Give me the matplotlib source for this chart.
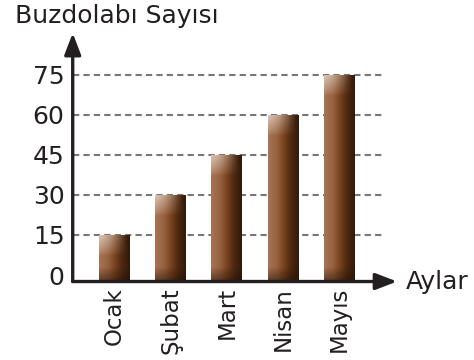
import numpy as np
import matplotlib
matplotlib.use('Agg')
import matplotlib.pyplot as plt

plt.rcParams['font.family'] = ['DejaVu Sans']

# data
months = ['Ocak', 'Şubat', 'Mart', 'Nisan', 'Mayıs']
counts = [15, 30, 45, 60, 75]
yticks = [0, 15, 30, 45, 60, 75]
ylabel = 'Buzdolabı Sayısı'
xlabel = 'Aylar'

ink = '#231f20'
grid_col = '#77777a'
ymin, ymax = -2.4, 90.5
xmin, xmax = -0.744, 5.03
bar_w = 0.55
fs = 18

fig = plt.figure(figsize=(4.74, 3.60), dpi=100)
ax = fig.add_axes([0.1534, 0.218, 0.6842, 0.690])
ax.set_xlim(xmin, xmax)
ax.set_ylim(ymin, ymax)
for s in ax.spines.values():
    s.set_visible(False)

# dashed guide lines
ax.hlines(yticks[1:], xmin, 4.76, colors=grid_col, lw=1.5,
          linestyles=(0, (3, 2)), zorder=1)

# shaded bars
px_per_unit = 0.690 * 360 / (ymax - ymin)
stops_u = [0.0, 0.3, 0.5, 0.75, 1.0]
stops_rgb = np.array([[165, 116, 88], [150, 96, 62], [122, 68, 32],
                      [78, 40, 16], [52, 26, 10]]) / 255.0


def bar_image(h_px, cols=32):
    rows = max(int(round(h_px)), 2)
    u = np.linspace(0, 1, cols)
    base = np.stack([np.interp(u, stops_u, stops_rgb[:, c]) for c in range(3)], axis=-1)
    img = np.repeat(base[None, :, :], rows, axis=0)
    v = np.arange(rows)[:, None]
    # pale highlight at the top left
    wt = np.clip(1 - v / 20.0, 0, 1) ** 0.8 * np.clip(1 - u[None, :] * 1.1, 0, 1)
    hl = np.array([222, 205, 192]) / 255.0
    img = img * (1 - 0.9 * wt[..., None]) + hl * 0.9 * wt[..., None]
    # dark foot
    d = rows - 1 - v
    wb = np.clip(1 - d / 15.0, 0, 1) * np.ones_like(u)[None, :]
    dark = np.array([38, 18, 6]) / 255.0
    img = img * (1 - 0.6 * wb[..., None]) + dark * 0.6 * wb[..., None]
    return np.clip(img, 0, 1)


for i, val in enumerate(counts):
    h_px = (val - ymin) * px_per_unit
    ax.imshow(bar_image(h_px), extent=(i - bar_w / 2, i + bar_w / 2, ymin, val),
              aspect='auto', interpolation='bilinear', zorder=2)

# axes with arrow heads
arrow = dict(arrowstyle='-|>,head_length=0.65,head_width=0.25', lw=2.4,
             color=ink, shrinkA=0, shrinkB=0, mutation_scale=20)
ax.annotate('', xy=(0, 1), xytext=(0, 0), xycoords='axes fraction',
            arrowprops=arrow, zorder=4)
ax.annotate('', xy=(1, 0), xytext=(0, 0), xycoords='axes fraction',
            arrowprops=arrow, zorder=4)

ax.set_yticks(yticks)
ax.set_yticklabels([str(t) for t in yticks])
ax.set_xticks(range(len(months)))
ax.set_xticklabels(months, rotation=90)
ax.tick_params(axis='both', length=0, colors=ink)
ax.tick_params(axis='y', pad=6, labelsize=fs)
ax.tick_params(axis='x', pad=4, labelsize=16.5)

fig.text(15 / 474, 1 - 23 / 360, ylabel, fontsize=fs, color=ink,
         ha='left', va='baseline')
ax.annotate(xlabel, xy=(1, 0), xycoords='axes fraction', xytext=(6, -5.5),
            textcoords='offset points', fontsize=fs, color=ink,
            ha='left', va='baseline')

fig.savefig('out.png', dpi=100)
